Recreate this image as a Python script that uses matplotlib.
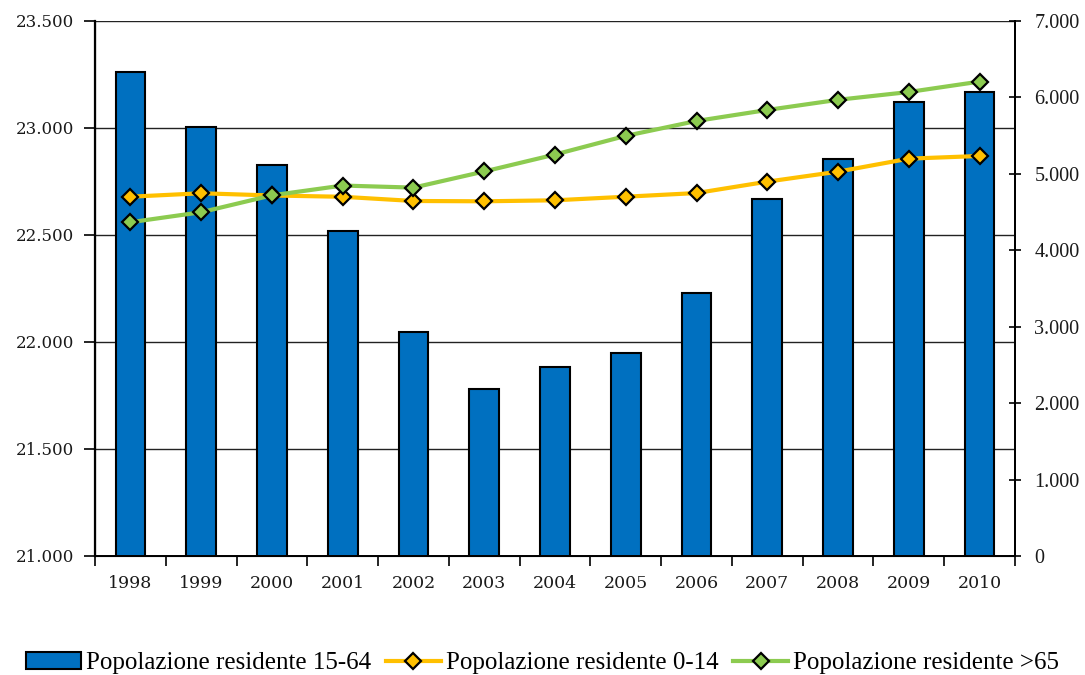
import matplotlib.pyplot as plt
from matplotlib.ticker import FuncFormatter, FixedLocator
import numpy as np

years = ['1998', '1999', '2000', '2001', '2002', '2003', '2004',
         '2005', '2006', '2007', '2008', '2009', '2010']
pop_15_64 = [23260, 23003, 22829, 22520, 22047, 21781, 21883,
             21949, 22230, 22667, 22857, 23121, 23168]
pop_0_14 = [4701, 4746, 4717, 4700, 4645, 4641, 4654,
            4701, 4749, 4898, 5029, 5199, 5234]
pop_65 = [4367, 4498, 4719, 4847, 4820, 5031, 5253,
          5497, 5692, 5836, 5969, 6071, 6207]

blue = '#0070C0'
orange = '#FFC000'
green = '#8CCB50'


def dotted(v, pos):
    return '{:,.0f}'.format(v).replace(',', '.')


fig = plt.figure(figsize=(10.85, 6.75), dpi=100)
ax = fig.add_axes([95 / 1085, 1 - 556 / 675, 920 / 1085, 535 / 675])
x = np.arange(len(years))

ax.bar(x, pop_15_64, width=0.42, color=blue, edgecolor='black', linewidth=1.5,
       label='Popolazione residente 15-64', zorder=2)
ax.set_ylim(21000, 23500)
ax.set_yticks(np.arange(21000, 23501, 500))
ax.yaxis.set_major_formatter(FuncFormatter(dotted))
ax.set_axisbelow(True)
ax.grid(axis='y', color='#222222', linewidth=1.0)
ax.set_xlim(-0.5, len(years) - 0.5)

# labels at the centre, tick marks between categories
ax.set_xticks(x)
ax.set_xticklabels(years)
ax.xaxis.set_minor_locator(FixedLocator(np.arange(-0.5, len(years), 1.0)))
ax.tick_params(axis='x', which='major', length=0, pad=14)
ax.tick_params(axis='x', which='minor', length=7, width=1.2, direction='out')
ax.tick_params(axis='y', length=8, width=1.2, direction='out', pad=7)
for lab in ax.get_yticklabels():
    lab.set_family('DejaVu Serif')
    lab.set_fontsize(12)
    lab.set_color('#1a1a1a')
for lab in ax.get_xticklabels():
    lab.set_family('DejaVu Serif')
    lab.set_fontsize(12.5)
    lab.set_color('#1a1a1a')

ax.spines['top'].set_visible(False)
ax.spines['left'].set_linewidth(1.6)
ax.spines['bottom'].set_linewidth(1.4)
ax.spines['right'].set_linewidth(1.4)

ax2 = ax.twinx()
ax2.plot(x, pop_0_14, color=orange, linewidth=3, marker='D', markersize=8,
         markerfacecolor=orange, markeredgecolor='black', markeredgewidth=1.6,
         label='Popolazione residente 0-14')
ax2.plot(x, pop_65, color=green, linewidth=3, marker='D', markersize=8,
         markerfacecolor=green, markeredgecolor='black', markeredgewidth=1.6,
         label='Popolazione residente >65')
ax2.set_ylim(0, 7000)
ax2.set_yticks(np.arange(0, 7001, 1000))
ax2.yaxis.set_major_formatter(FuncFormatter(dotted))
ax2.tick_params(axis='y', length=8, width=1.2, direction='inout', pad=10)
for lab in ax2.get_yticklabels():
    lab.set_family('Liberation Serif')
    lab.set_fontsize(14.5)
    lab.set_color('#1a1a1a')
ax2.spines['top'].set_visible(False)
ax2.spines['right'].set_linewidth(1.4)

h1, l1 = ax.get_legend_handles_labels()
h2, l2 = ax2.get_legend_handles_labels()
fig.legend(h1 + h2, l1 + l2, loc='center', bbox_to_anchor=(0.5, 1 - 663 / 675),
           ncol=3, frameon=False, prop={'family': 'Liberation Serif', 'size': 18},
           handlelength=2.2, handletextpad=0.2, columnspacing=0.6)

plt.savefig('out.png', dpi=100)
